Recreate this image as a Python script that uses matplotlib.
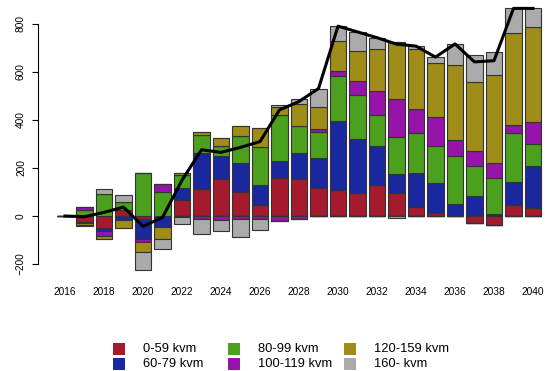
import numpy as np
import matplotlib
matplotlib.use("Agg")
import matplotlib.pyplot as plt
from matplotlib.patches import Rectangle

plt.rcParams['font.family'] = ['Liberation Sans', 'DejaVu Sans']

years = list(range(2016, 2041))
labels = ['0-59 kvm', '60-79 kvm', '80-99 kvm', '100-119 kvm', '120-159 kvm', '160- kvm']
colors = ['#A51A2D', '#1A28A0', '#4BA01E', '#9614AA', '#A08C19', '#AAAAAA']

# net change per size class
kvm_0_59 = [0, -25, -50, 23, -12, 0, 67, 111, 153, 101, 46, 157, 153, 118, 108, 95, 129, 97, 39, 14, 0, -28, -37, 46, 32]
kvm_60_79 = [0, -4, -11, -15, -85, -44, 49, 150, 97, 121, 83, 72, 111, 122, 289, 226, 164, 78, 142, 125, 50, 85, 8, 97, 178]
kvm_80_99 = [0, 26, 90, 35, 181, 98, 55, 76, 43, 111, 160, 192, 111, 111, 188, 183, 128, 153, 164, 153, 200, 125, 151, 201, 90]
kvm_100_119 = [0, 12, -24, 0, -12, 35, -3, -14, -17, -11, -14, -19, -11, 11, 19, 58, 101, 158, 101, 120, 67, 62, 60, 35, 93]
kvm_120_159 = [0, -8, -11, -37, -43, -53, 10, 14, 33, 42, 79, 35, 92, 93, 125, 126, 174, 240, 250, 225, 312, 287, 368, 382, 396]
kvm_160 = [0, -4, 21, 31, -72, -42, -29, -61, -44, -78, -44, 5, 21, 76, 62, 79, 47, -10, 12, 25, 88, 111, 97, 104, 76]

series = [kvm_0_59, kvm_60_79, kvm_80_99, kvm_100_119, kvm_120_159, kvm_160]

W, H = 546, 371
fig = plt.figure(figsize=(W / 100, H / 100), dpi=100)
ax = fig.add_axes([37.5 / W, 1 - 280 / H, 1 - 37.5 / W, 280 / H])

x = np.array(years)
pos_bottom = np.zeros(len(years))
neg_bottom = np.zeros(len(years))
for vals, col in zip(series, colors):
    v = np.array(vals, dtype=float)
    pos = np.where(v > 0, v, 0)
    neg = np.where(v < 0, v, 0)
    ax.bar(x, pos, width=0.833, bottom=pos_bottom, color=col,
           edgecolor='#333333', linewidth=0.8)
    ax.bar(x, neg, width=0.833, bottom=neg_bottom, color=col,
           edgecolor='#333333', linewidth=0.8)
    pos_bottom += pos
    neg_bottom += neg

net = pos_bottom + neg_bottom
ax.plot(x, net, color='black', linewidth=2.2, zorder=5)

ax.set_xlim(2016 - 27.5 / 19.5, 2040 + 13 / 19.5)
ax.set_ylim(-266.7, 900)

for s in ['top', 'right', 'bottom']:
    ax.spines[s].set_visible(False)
ax.spines['left'].set_bounds(-200, 800)
ax.spines['left'].set_linewidth(0.8)

ax.set_yticks([-200, 0, 200, 400, 600, 800])
ax.tick_params(axis='y', labelsize=7.3, length=4.3, width=0.8, pad=4, labelrotation=90)
for t in ax.get_yticklabels():
    t.set_va('center')
ax.set_xticks(years[::2])
ax.set_xticklabels([str(y) for y in years[::2]])
ax.tick_params(axis='x', labelsize=7.3, length=0, pad=5)

# legend drawn in R style: 3 columns, 2 rows
col_x = [113, 228, 344]
row_y = [348.5, 364]
for i, (lab, col) in enumerate(zip(labels, colors)):
    cx = col_x[i // 2]
    cy = row_y[i % 2]
    fig.add_artist(Rectangle((cx / W, 1 - (cy + 6) / H), 12 / W, 12 / H,
                             transform=fig.transFigure, facecolor=col,
                             edgecolor='none'))
    fig.text((cx + 30) / W, 1 - cy / H, lab, fontsize=9.3, va='center', ha='left')

fig.savefig('out.png', dpi=100)
